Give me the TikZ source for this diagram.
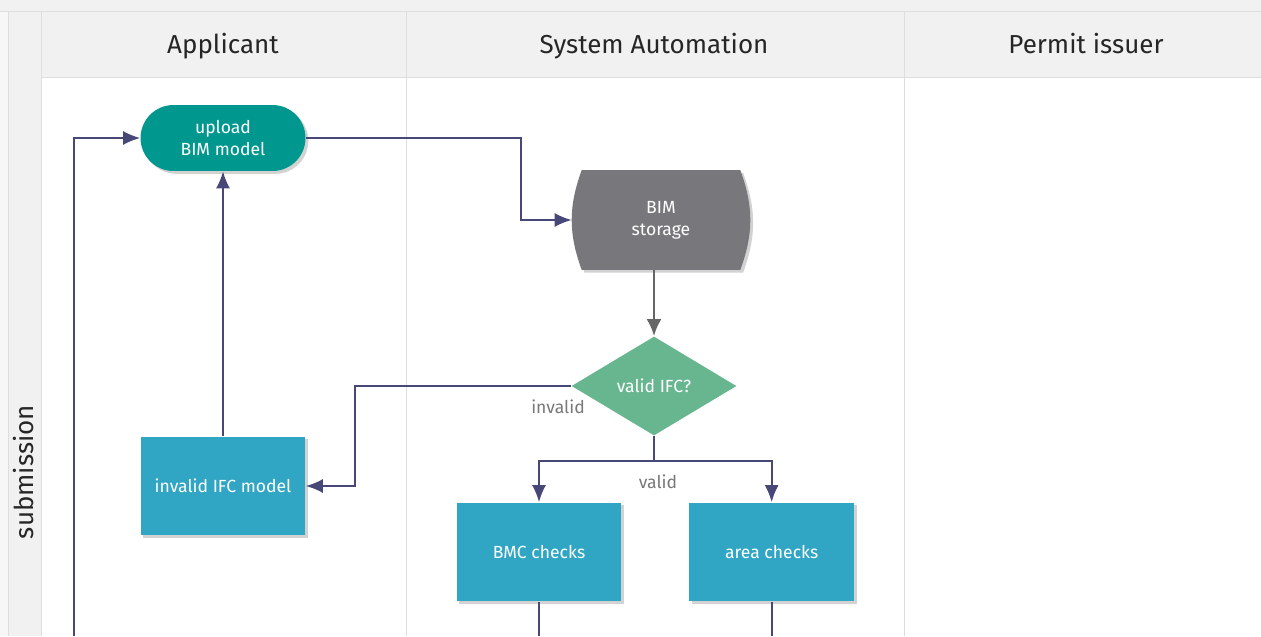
\documentclass[tikz,border=0pt]{standalone}
\usepackage{fontspec}
\setmainfont{Fira Sans}
\usepackage{xcolor}
\usepackage{tikz}
\usetikzlibrary{arrows.meta,positioning,shapes.geometric,shadows,backgrounds}

\definecolor{lanefill}{RGB}{241,241,241}
\definecolor{laneline}{RGB}{222,222,222}
\definecolor{tealfill}{RGB}{0,151,143}
\definecolor{storefill}{RGB}{120,120,124}
\definecolor{decfill}{RGB}{104,182,143}
\definecolor{boxfill}{RGB}{48,166,196}
\definecolor{flowline}{RGB}{72,72,120}
\definecolor{labelgray}{RGB}{120,120,120}

\begin{document}
\begin{tikzpicture}[
  x=0.02cm, y=-0.02cm,
  node distance=1.34cm,
  shade/.style={drop shadow={shadow xshift=1.6pt, shadow yshift=-1.6pt, opacity=.25, fill=black!70}},
  lanehead/.style={font=\fontsize{14.8}{17}\selectfont, text=black!85},
  nodetext/.style={font=\fontsize{10}{12.5}\selectfont, text=white, align=center},
  pill/.style={nodetext, rectangle, rounded corners=0.66cm, fill=tealfill, shade, minimum width=3.3cm, minimum height=1.32cm},
  storage/.style={nodetext, rectangle, minimum width=3.56cm, minimum height=1.98cm},
  decision/.style={nodetext, diamond, aspect=1.67, inner sep=0pt, fill=decfill, minimum width=3.3cm, minimum height=1.98cm},
  box/.style={nodetext, rectangle, fill=boxfill, shade, minimum width=3.3cm, minimum height=1.98cm},
  edgelabel/.style={font=\fontsize{10}{12}\selectfont, text=labelgray},
  line/.style={draw=flowline, line width=1.1pt},
  arrow/.style={line, -{Latex[length=3.4mm, width=2.8mm]}},
  grayarrow/.style={draw=black!60, line width=1.6pt, -{Latex[length=3.4mm, width=3mm]}}
]

\useasboundingbox (0,0) rectangle (1261,636);

\begin{scope}[on background layer]
\fill[white] (0,0) rectangle (1261,636);
\fill[black!3] (0,11) rectangle (8,636);
\fill[lanefill] (0,0) rectangle (1261,11);
\fill[lanefill] (8,11) rectangle (41,636);
\fill[lanefill] (41,11) rectangle (1261,77);
\draw[laneline] (0,11) -- (1261,11);
\draw[laneline] (8,11) -- (8,636);
\draw[laneline] (41,11) -- (41,636);
\draw[laneline] (41,77) -- (1261,77);
\draw[laneline] (406,11) -- (406,636);
\draw[laneline] (904,11) -- (904,636);
\end{scope}

\node[lanehead, anchor=base] (applicant) at (223,53) {Applicant};
\node[lanehead, anchor=base] (automation) at (654,53) {System Automation};
\node[lanehead, anchor=base] (issuer) at (1086,53) {Permit issuer};
\node[lanehead, rotate=90] (submission) at (24,472) {submission};

\node[pill] (upload) at (223,138) {upload\\BIM model};
\node[storage] (store) at (661,220) {BIM\\storage};
\node[decision] (valid) at (654,386) {valid IFC?};
\node[box] (invalid) at (223,486) {invalid IFC model};
\node[box] (bmc) at (539,552) {BMC checks};
\node[box, right=of bmc] (area) {area checks};

\begin{scope}[on background layer]
\fill[storefill, shade] ([xshift=0.2cm]store.north west) to[bend right=20] ([xshift=0.2cm]store.south west)
  -- ([xshift=-0.2cm]store.south east) to[bend right=20] ([xshift=-0.2cm]store.north east) -- cycle;
\end{scope}

\node[edgelabel] (invalidlabel) at (558,407) {invalid};
\node[edgelabel] (validlabel) at (658,482) {valid};

\coordinate (loopin) at (74,636);
\coordinate (split) at (654,461);

\draw[arrow] (upload.east) -- ++(215,0) |- (store.west);
\draw[grayarrow] (valid.north |- store.south) -- (valid.north);
\draw[arrow] (valid.west) -- ++(-216,0) |- (invalid.east);
\draw[arrow] (invalid.north) -- (upload.south);
\draw[line] (valid.south) -- (split);
\draw[arrow] (split) -| (bmc.north);
\draw[arrow] (split) -| (area.north);
\draw[arrow] (loopin) |- (upload.west);
\draw[line] (bmc.south) -- (bmc.south |- loopin);
\draw[line] (area.south) -- (area.south |- loopin);

\end{tikzpicture}
\end{document}
